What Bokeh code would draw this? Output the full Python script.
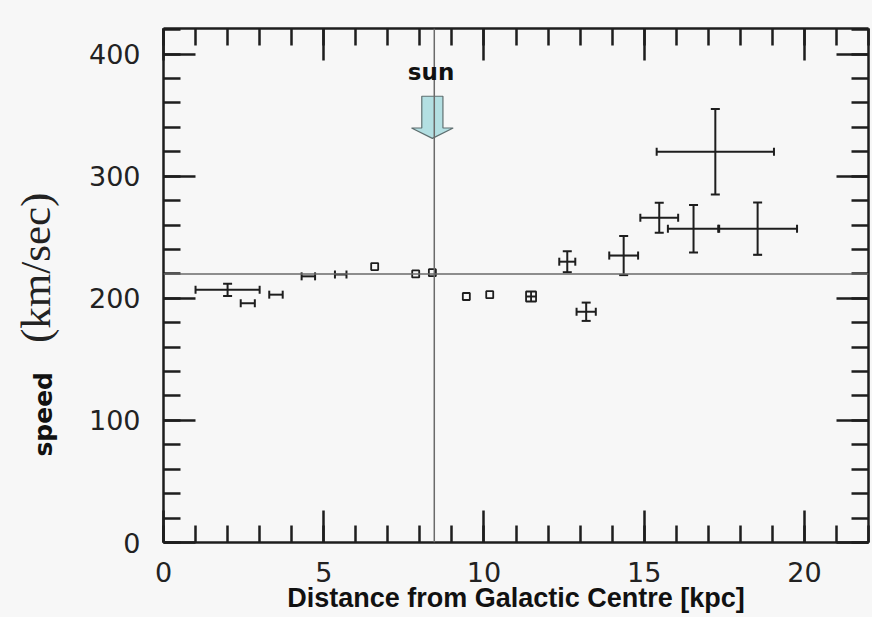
import math
from bokeh.plotting import figure
from bokeh.layouts import row
from bokeh.models import (Range1d, LinearAxis, SingleIntervalTicker, Whisker,
                          ColumnDataSource, TeeHead, Label, CustomJSTickFormatter, Span)
from bokeh.core.properties import value
from bokeh.embed import file_html
from bokeh.resources import INLINE

# ---- data ----
r_kpc = [2.0, 2.63, 3.51, 4.52, 5.53, 12.6, 13.19, 14.36, 15.47, 16.54, 17.22, 18.54]
v_kms = [207, 196, 203, 218, 219.5, 230, 189, 235, 266, 257, 320, 257]
r_err = [1.0, 0.22, 0.21, 0.21, 0.18, 0.25, 0.3, 0.45, 0.59, 0.8, 1.83, 1.23]
v_err = [5, 0, 0, 0, 0, 8.6, 7.5, 16, 12.3, 19.5, 35, 21.4]

sq_r = [6.59, 7.87, 8.39, 9.45, 10.18]
sq_v = [226, 220, 221, 201.5, 203]
box_r = [11.47]
box_v = [201.5]

sun_r = 8.45
v_sun = 220

x_label = "Distance from Galactic Centre [kpc]"
y_label_unit = "(km/sec)"
y_label_word = "speed"
sun_label = "sun"

BG = "#f7f7f7"
INK = "#1e1e1e"
H = 617
LEFT_W = 80
TOP_B, BOT_B = 28, 75

y_rng = Range1d(0, 421)

# ---------------- side strip holding the two-font y title ----------------
side = figure(width=LEFT_W, height=H, output_backend="svg", toolbar_location=None,
              x_range=Range1d(0, LEFT_W), y_range=y_rng,
              x_axis_location=None, y_axis_location=None,
              background_fill_color=BG, border_fill_color=BG,
              min_border_left=0, min_border_right=0,
              min_border_top=TOP_B, min_border_bottom=BOT_B)
side.outline_line_color = None
side.xgrid.visible = False
side.ygrid.visible = False
side.text(x=[43], y=[105], text=[y_label_word], angle=math.pi / 2,
          text_align="center", text_baseline="middle",
          text_font=value("DejaVu Sans"), text_font_style="bold",
          text_font_size="25px", text_color="#111111")
side.text(x=[35], y=[225], text=[y_label_unit], angle=math.pi / 2,
          text_align="center", text_baseline="middle",
          text_font=value("Liberation Serif"), text_font_size="43px",
          text_color="#222222")

# ---------------- main chart ----------------
p = figure(width=872 - LEFT_W, height=H, output_backend="svg", toolbar_location=None,
           x_range=Range1d(0, 22), y_range=y_rng,
           x_axis_location=None, y_axis_location=None,
           background_fill_color=BG, border_fill_color=BG,
           min_border_left=163 - LEFT_W, min_border_right=4,
           min_border_top=TOP_B, min_border_bottom=BOT_B)
p.outline_line_color = None
p.xgrid.visible = False
p.ygrid.visible = False

xt = SingleIntervalTicker(interval=5, num_minor_ticks=5)
yt = SingleIntervalTicker(interval=100, num_minor_ticks=5)
blank = CustomJSTickFormatter(code="return ''")


def style(ax, show):
    ax.axis_line_color = INK
    ax.axis_line_width = 2.5
    ax.major_tick_line_color = INK
    ax.minor_tick_line_color = INK
    ax.major_tick_line_width = 2.5
    ax.minor_tick_line_width = 2.5
    ax.major_tick_in = 32
    ax.major_tick_out = 0
    ax.minor_tick_in = 17
    ax.minor_tick_out = 0
    if show:
        ax.major_label_text_font = "DejaVu Sans"
        ax.major_label_text_font_size = "27px"
        ax.major_label_text_color = "#222222"
    else:
        ax.formatter = blank
        ax.major_label_text_font_size = "0px"
        ax.major_label_standoff = 0


bottom = LinearAxis(ticker=xt, axis_label=x_label)
style(bottom, True)
bottom.major_label_standoff = 19
bottom.axis_label_text_font = "Liberation Sans"
bottom.axis_label_text_font_style = "bold"
bottom.axis_label_text_font_size = "27px"
bottom.axis_label_text_color = "#111111"
bottom.axis_label_standoff = -2
p.add_layout(bottom, "below")

left = LinearAxis(ticker=yt)
style(left, True)
left.major_label_standoff = 23
p.add_layout(left, "left")

top = LinearAxis(ticker=xt)
style(top, False)
p.add_layout(top, "above")

right = LinearAxis(ticker=yt)
style(right, False)
p.add_layout(right, "right")

# reference lines: sun position and 220 km/s
p.add_layout(Span(location=sun_r, dimension="height", line_color="#6a6a6a", line_width=1.5))
p.add_layout(Span(location=v_sun, dimension="width", line_color="#6a6a6a", line_width=1.5))

# horizontal error bars
src_h = ColumnDataSource(dict(
    y=v_kms,
    lo=[r - e for r, e in zip(r_kpc, r_err)],
    hi=[r + e for r, e in zip(r_kpc, r_err)],
))
p.add_layout(Whisker(source=src_h, base="y", lower="lo", upper="hi", dimension="width",
                     line_color=INK, line_width=2,
                     lower_head=TeeHead(size=8, line_color=INK, line_width=2),
                     upper_head=TeeHead(size=8, line_color=INK, line_width=2)))

# vertical error bars
vr = [(r, v, e) for r, v, e in zip(r_kpc, v_kms, v_err) if e > 0]
src_v = ColumnDataSource(dict(
    x=[a for a, _, _ in vr],
    lo=[b - c for _, b, c in vr],
    hi=[b + c for _, b, c in vr],
))
p.add_layout(Whisker(source=src_v, base="x", lower="lo", upper="hi", dimension="height",
                     line_color=INK, line_width=2,
                     lower_head=TeeHead(size=9, line_color=INK, line_width=2),
                     upper_head=TeeHead(size=9, line_color=INK, line_width=2)))

# small open squares
p.scatter(sq_r, sq_v, marker="square", size=7, fill_color=None,
          line_color=INK, line_width=1.8)
p.scatter(box_r, box_v, marker="square_cross", size=10, fill_color=None,
          line_color=INK, line_width=1.8)

# sun arrow (block arrow drawn in data space around sun_r)
ax_c = sun_r - 0.06
shaft = 0.33
head = 0.65
y_top, y_base, y_tip = 365.5, 339.5, 331
p.patch([ax_c - shaft, ax_c + shaft, ax_c + shaft, ax_c + head, ax_c,
         ax_c - head, ax_c - shaft],
        [y_top, y_top, y_base, y_base, y_tip, y_base, y_base],
        fill_color="#b3dfe2", line_color="#5f6f70", line_width=1.2)

p.add_layout(Label(x=sun_r - 0.1, y=385, text=sun_label, text_align="center",
                   text_baseline="middle", text_font="DejaVu Sans",
                   text_font_style="bold", text_font_size="23px", text_color="#111111"))

layout = row(side, p, spacing=0, styles={"background-color": BG})
open("out.html", "w").write(file_html(layout, INLINE))
